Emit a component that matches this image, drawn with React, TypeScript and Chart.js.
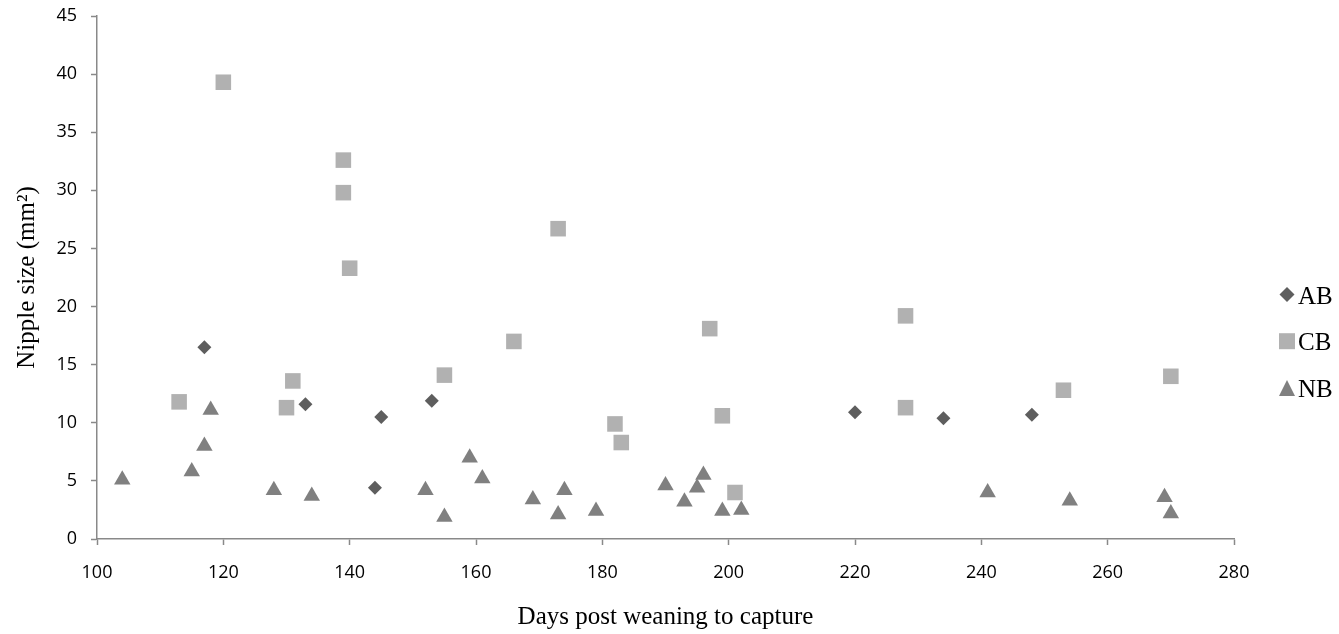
import React, { useEffect, useRef } from "react";
import { Chart, registerables } from "chart.js";

Chart.register(...registerables);

const seriesLabels = ["AB", "CB", "NB"];

const abDays = [117, 133, 144, 145, 153, 220, 234, 248];
const abSize = [16.5, 11.6, 4.4, 10.5, 11.9, 10.9, 10.4, 10.7];

const cbDays = [113, 120, 130, 131, 139, 139, 140, 155, 166, 173, 182, 183, 197, 199, 201, 228, 228, 253, 270];
const cbSize = [11.8, 39.3, 11.3, 13.6, 32.6, 29.8, 23.3, 14.1, 17.0, 26.7, 9.9, 8.3, 18.1, 10.6, 4.0, 19.2, 11.3, 12.8, 14.0];

const nbDays = [104, 115, 117, 118, 128, 134, 152, 155, 159, 161, 169, 173, 174, 179, 190, 193, 195, 196, 199, 202, 241, 254, 269, 270];
const nbSize = [5.1, 5.8, 8.0, 11.1, 4.2, 3.7, 4.2, 1.9, 7.0, 5.2, 3.4, 2.1, 4.2, 2.4, 4.6, 3.2, 4.4, 5.5, 2.4, 2.5, 4.0, 3.3, 3.6, 2.2];

const xTitle = "Days post weaning to capture";
const yTitle = "Nipple size (mm²)";

const toPoints = (xs: number[], ys: number[]) => xs.map((x, i) => ({ x, y: ys[i] }));

const AXIS_COLOR = "#898989";
const SERIF = '"Liberation Serif", "Times New Roman", serif';
const SANS = '"Open Sans", "Noto Sans", sans-serif';

const sideLegend = {
  id: "sideLegend",
  afterDraw(chart: any) {
    const ctx = chart.ctx as CanvasRenderingContext2D;
    const right = chart.chartArea.right;
    const markerX = right + 53;
    const textX = right + 64;
    const baseline0 = 303.5;
    const gap = 46.7;
    chart.data.datasets.forEach((ds: any, i: number) => {
      const base = baseline0 + i * gap;
      const cy = base - 9;
      ctx.save();
      ctx.fillStyle = ds.backgroundColor;
      ctx.beginPath();
      if (ds.pointStyle === "rectRot") {
        const r = 7.5;
        ctx.moveTo(markerX - r, cy);
        ctx.lineTo(markerX, cy - r);
        ctx.lineTo(markerX + r, cy);
        ctx.lineTo(markerX, cy + r);
        ctx.closePath();
      } else if (ds.pointStyle === "rect") {
        const h = 8;
        ctx.rect(markerX - h, cy - h, 2 * h, 2 * h);
      } else {
        ctx.moveTo(markerX, cy - 8);
        ctx.lineTo(markerX + 8, cy + 8);
        ctx.lineTo(markerX - 8, cy + 8);
        ctx.closePath();
      }
      ctx.fill();
      ctx.fillStyle = "#000";
      ctx.font = `25px ${SERIF}`;
      ctx.textAlign = "left";
      ctx.textBaseline = "alphabetic";
      ctx.fillText(ds.label, textX, base);
      ctx.restore();
    });
  },
};

export default function App() {
  const canvasRef = useRef<HTMLCanvasElement | null>(null);

  useEffect(() => {
    if (!canvasRef.current) return;
    const chart = new Chart(canvasRef.current, {
      type: "scatter",
      data: {
        datasets: [
          {
            label: seriesLabels[0],
            data: toPoints(abDays, abSize),
            pointStyle: "rectRot",
            pointRadius: 7,
            backgroundColor: "#5e5e5e",
            borderColor: "#5e5e5e",
            borderWidth: 0,
          },
          {
            label: seriesLabels[1],
            data: toPoints(cbDays, cbSize),
            pointStyle: "rect",
            pointRadius: 11,
            backgroundColor: "#b1b1b1",
            borderColor: "#b1b1b1",
            borderWidth: 0,
          },
          {
            label: seriesLabels[2],
            data: toPoints(nbDays, nbSize),
            pointStyle: "triangle",
            pointRadius: 9.5,
            backgroundColor: "#808080",
            borderColor: "#808080",
            borderWidth: 0,
          },
        ] as any,
      },
      options: {
        animation: false,
        responsive: true,
        maintainAspectRatio: false,
        layout: { padding: { top: 16, right: 105, left: 0, bottom: 0 } },
        plugins: {
          legend: { display: false },
          tooltip: { enabled: false },
        },
        scales: {
          x: {
            type: "linear",
            min: 100,
            max: 280,
            ticks: { stepSize: 20, color: "#000", font: { family: SANS, size: 18 }, padding: 17 },
            grid: { drawOnChartArea: false, drawTicks: true, tickLength: 6, tickColor: AXIS_COLOR, tickWidth: 1.5 },
            border: { color: AXIS_COLOR, width: 1.5 },
            title: { display: true, text: xTitle, color: "#000", font: { family: SERIF, size: 25 }, padding: { top: 0, bottom: 2 } },
            afterFit: (scale: any) => {
              scale.height = 95;
            },
          },
          y: {
            type: "linear",
            min: 0,
            max: 45,
            ticks: { stepSize: 5, color: "#000", font: { family: SANS, size: 18 }, padding: 14 },
            grid: { drawOnChartArea: false, drawTicks: true, tickLength: 6, tickColor: AXIS_COLOR, tickWidth: 1.5 },
            border: { color: AXIS_COLOR, width: 1.5 },
            title: { display: true, text: yTitle, color: "#000", font: { family: SERIF, size: 25 }, padding: { top: 12, bottom: 0 } },
            afterFit: (scale: any) => {
              scale.width = 97;
              scale.paddingTop = 0;
              scale.paddingBottom = 0;
            },
          },
        },
      },
      plugins: [sideLegend],
    });
    return () => chart.destroy();
  }, []);

  return (
    <div style={{ position: "fixed", left: 0, top: 0, width: 1339, height: 634, background: "#fff" }}>
      <canvas ref={canvasRef} />
    </div>
  );
}
